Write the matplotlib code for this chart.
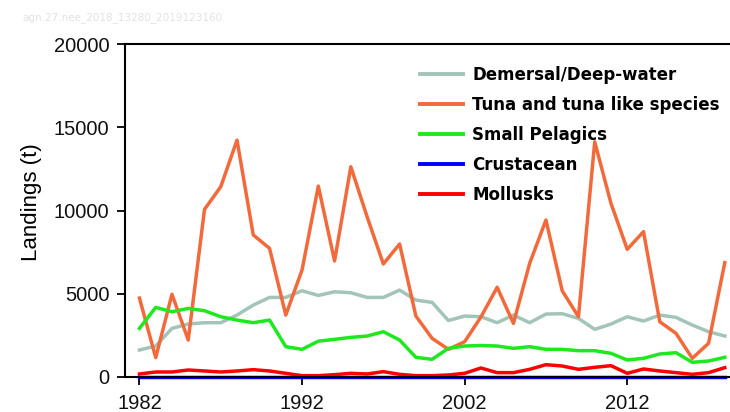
import matplotlib.pyplot as plt

years = list(range(1982, 2019))

# landings in tonnes
demersal = [1620, 1860, 2920, 3180, 3260, 3260, 3720, 4320, 4780, 4780,
            5180, 4900, 5120, 5060, 4780, 4780, 5220, 4620, 4480, 3390,
            3660, 3620, 3260, 3720, 3260, 3780, 3800, 3520, 2860, 3180,
            3620, 3360, 3720, 3580, 3120, 2720, 2460]
tuna = [4740, 1160, 4970, 2220, 10070, 11430, 14230, 8530, 7730, 3720,
        6430, 11470, 6970, 12630, 9630, 6790, 7990, 3660, 2320, 1660,
        2120, 3600, 5390, 3220, 6830, 9430, 5180, 3620, 14130, 10430,
        7670, 8730, 3320, 2620, 1120, 2020, 6870]
small_pelagics = [2920, 4180, 3920, 4120, 3980, 3620, 3420, 3260, 3420, 1820,
                  1660, 2150, 2260, 2380, 2460, 2720, 2220, 1180, 1060, 1720,
                  1860, 1890, 1860, 1720, 1820, 1660, 1660, 1580, 1580, 1420,
                  1020, 1120, 1380, 1460, 880, 960, 1180]
crustacean = [20] * 37
mollusks = [180, 300, 300, 420, 360, 300, 360, 440, 360, 220,
            80, 80, 140, 220, 180, 320, 160, 80, 80, 120,
            220, 540, 260, 260, 460, 740, 660, 460, 580, 680,
            220, 480, 360, 260, 160, 260, 560]

labels = ["Demersal/Deep-water", "Tuna and tuna like species", "Small Pelagics",
          "Crustacean", "Mollusks"]
colors = ["#a3c4b9", "#f26a3b", "#1ee81e", "#0000ff", "#ff0000"]
series = [demersal, tuna, small_pelagics, crustacean, mollusks]

fig = plt.figure(figsize=(7.3, 4.12), dpi=100)
ax = fig.add_axes([0.171, 0.085, 0.829, 0.808])

for vals, lab, col in zip(series, labels, colors):
    ax.plot(years, vals, color=col, lw=2.5, label=lab, clip_on=False)

ax.set_xlim(1981.1, 2018.32)
ax.set_ylim(0, 20000)
ax.set_xticks([1982, 1992, 2002, 2012])
ax.set_yticks([0, 5000, 10000, 15000, 20000])
ax.spines["right"].set_visible(False)
for s in ["left", "top", "bottom"]:
    ax.spines[s].set_linewidth(1.5)
ax.tick_params(direction="out", length=6, width=1.3, labelsize=14.5)
ax.tick_params(axis="y", pad=5)
ax.tick_params(axis="x", pad=6)
for t in ax.get_xticklabels() + ax.get_yticklabels():
    t.set_fontfamily("Liberation Sans")
    t.set_color("#111111")

fig.text(0.043, 0.51, "Landings (t)", rotation=90, ha="center", va="center",
         fontsize=16, family="Liberation Sans")
fig.text(0.03, 0.957, "agn.27.nee_2018_13280_2019123160", fontsize=7.5,
         color="#e2e2e2", ha="left", va="center")

leg = fig.legend(loc="upper left", bbox_to_anchor=(420 / 730, 1 - 66 / 412),
                 frameon=False, borderpad=0, borderaxespad=0,
                 handlelength=2.6, handletextpad=0.55, labelspacing=0.72,
                 prop={"family": "DejaVu Sans", "weight": "bold", "size": 12})
for line in leg.get_lines():
    line.set_linewidth(2.8)

fig.savefig("out.png", dpi=100)
